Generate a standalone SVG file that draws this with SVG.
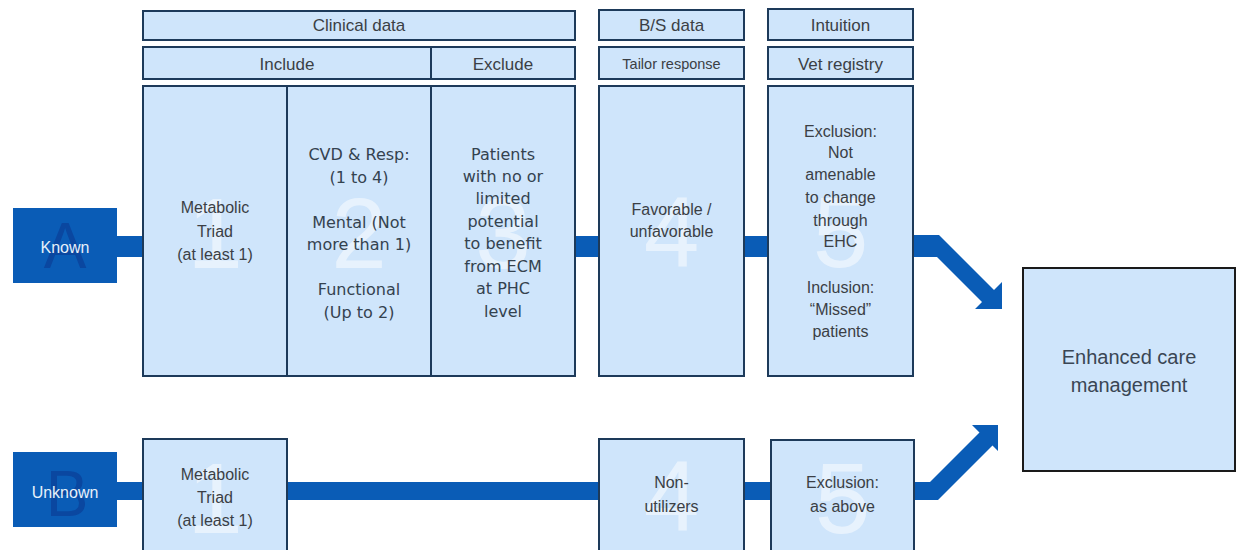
<svg xmlns="http://www.w3.org/2000/svg" width="1238" height="550" viewBox="0 0 1238 550">
<style>
.box{fill:#cfe5fb;stroke:#1d3a5a;stroke-width:2}
.blue{fill:#0a5cb6}
.t{font-family:"Liberation Sans",Arial,sans-serif;fill:#3b3f45;text-anchor:middle;font-size:16px}
.h{font-size:17px}
.v{font-family:"DejaVu Sans",Verdana,sans-serif;font-size:16px;fill:#34424f}
.wm{font-family:"Liberation Sans",Arial,sans-serif;font-size:100px;fill:#ffffff;fill-opacity:0.5;text-anchor:middle}
.wl{font-family:"Liberation Sans",Arial,sans-serif;font-size:64px;fill:#0a47a0;text-anchor:middle}
.lt{font-family:"Liberation Sans",Arial,sans-serif;font-size:16px;fill:#e6f0fa;text-anchor:middle}
</style>
<rect width="1238" height="550" fill="#ffffff"/>
<g id="connectors">
<rect class="blue" x="116" y="236" width="28" height="21"/>
<rect class="blue" x="574" y="236" width="26" height="21"/>
<rect class="blue" x="743" y="236" width="26" height="21"/>
<polygon class="blue" points="912,235 939,235 994,290 1002,282 1002,309 975,309 982,302 937,257 912,257"/>
<rect class="blue" x="116" y="482" width="28" height="18"/>
<rect class="blue" x="286" y="482" width="314" height="18"/>
<rect class="blue" x="743" y="482" width="29" height="18"/>
<polygon class="blue" points="913,482 930,482 979.5,432.5 972,425 998,425 998,451 992.5,445.5 938,500 913,500"/>
</g>
<g id="hdr-clinical"><rect class="box" x="143" y="11" width="432" height="29"/><text class="t h" x="359" y="31">Clinical data</text></g>
<g id="hdr-include"><rect class="box" x="143" y="47" width="288" height="32"/><text class="t h" x="287" y="70">Include</text></g>
<g id="hdr-exclude"><rect class="box" x="431" y="47" width="144" height="32"/><text class="t h" x="503" y="70">Exclude</text></g>
<g id="hdr-bs"><rect class="box" x="599" y="10" width="145" height="30"/><text class="t h" x="671.5" y="31">B/S data</text></g>
<g id="hdr-tailor"><rect class="box" x="599" y="47" width="145" height="32"/><text class="t" x="671.5" y="69" style="font-size:14.5px">Tailor  response</text></g>
<g id="hdr-intuition"><rect class="box" x="768" y="9" width="145" height="31"/><text class="t h" x="840.5" y="31">Intuition</text></g>
<g id="hdr-vet"><rect class="box" x="768" y="47" width="145" height="32"/><text class="t h" x="840.5" y="70">Vet registry</text></g>
<g id="known"><rect class="blue" x="13" y="208" width="104" height="75"/><text class="wl" x="65" y="268">A</text><text class="lt" x="65" y="253">Known</text></g>
<g id="unknown"><rect class="blue" x="13" y="452" width="104" height="75"/><text class="wl" x="67" y="516">B</text><text class="lt" x="65" y="498">Unknown</text></g>
<g id="a1"><rect class="box" x="143" y="86" width="144" height="290"/><text class="wm" x="215" y="268">1</text>
<text class="t" x="215" y="213">Metabolic</text><text class="t" x="215" y="237">Triad</text><text class="t" x="215" y="260">(at least 1)</text></g>
<g id="a2"><rect class="box" x="287" y="86" width="144" height="290"/><text class="wm" x="359" y="268">2</text>
<text class="t v" x="359" y="160">CVD &amp; Resp:</text><text class="t v" x="359" y="183">(1 to 4)</text>
<text class="t v" x="359" y="228">Mental (Not</text><text class="t v" x="359" y="250">more than 1)</text>
<text class="t v" x="359" y="295">Functional</text><text class="t v" x="359" y="318">(Up to 2)</text></g>
<g id="a3"><rect class="box" x="431" y="86" width="144" height="290"/><text class="wm" x="503" y="268">3</text>
<text class="t v" x="503" y="160">Patients</text><text class="t v" x="503" y="182">with no or</text><text class="t v" x="503" y="204">limited</text><text class="t v" x="503" y="227">potential</text><text class="t v" x="503" y="249">to benefit</text><text class="t v" x="503" y="272">from ECM</text><text class="t v" x="503" y="294">at PHC</text><text class="t v" x="503" y="317">level</text></g>
<g id="a4"><rect class="box" x="599" y="86" width="145" height="290"/><text class="wm" x="671.5" y="267">4</text>
<text class="t" x="671.5" y="215">Favorable /</text><text class="t" x="671.5" y="237">unfavorable</text></g>
<g id="a5"><rect class="box" x="768" y="86" width="145" height="290"/><text class="wm" x="840.5" y="267">5</text>
<text class="t" x="840.5" y="137">Exclusion:</text><text class="t" x="840.5" y="158">Not</text><text class="t" x="840.5" y="180">amenable</text><text class="t" x="840.5" y="203">to change</text><text class="t" x="840.5" y="226">through</text><text class="t" x="840.5" y="247">EHC</text>
<text class="t" x="840.5" y="293">Inclusion:</text><text class="t" x="840.5" y="315">“Missed”</text><text class="t" x="840.5" y="337">patients</text></g>
<g id="b1"><rect class="box" x="143" y="439" width="144" height="130"/><text class="wm" x="215" y="533">1</text>
<text class="t" x="215" y="480">Metabolic</text><text class="t" x="215" y="503">Triad</text><text class="t" x="215" y="526">(at least 1)</text></g>
<g id="b4"><rect class="box" x="599" y="439" width="145" height="130"/><text class="wm" x="671.5" y="531">4</text>
<text class="t" x="671.5" y="488">Non-</text><text class="t" x="671.5" y="512">utilizers</text></g>
<g id="b5"><rect class="box" x="771" y="440" width="143" height="130"/><text class="wm" x="842.5" y="533">5</text>
<text class="t" x="842.5" y="488">Exclusion:</text><text class="t" x="842.5" y="512">as above</text></g>
<g id="ecm"><rect class="box" x="1023" y="268" width="212" height="203" style="stroke:#1a1a1a"/>
<text class="t" x="1129" y="364" style="font-size:20px;fill:#3a4654">Enhanced care</text><text class="t" x="1129" y="392" style="font-size:20px;fill:#3a4654">management</text></g>
</svg>
